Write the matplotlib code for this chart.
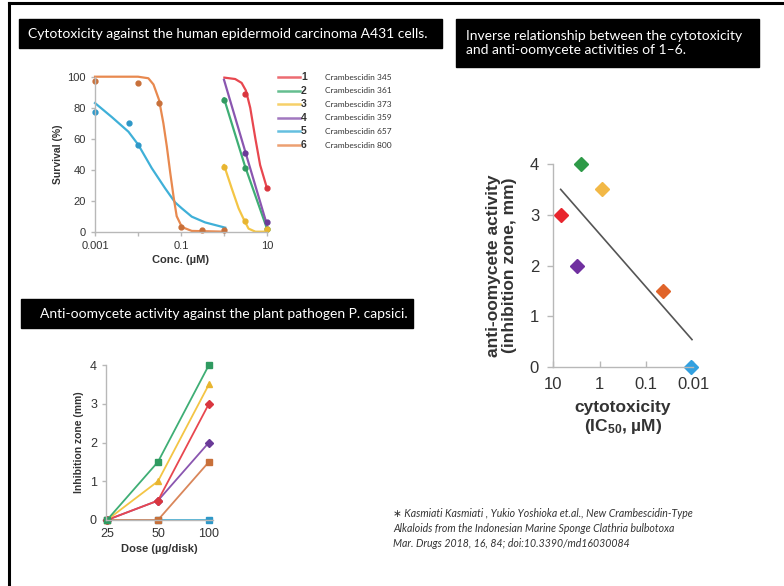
import matplotlib
matplotlib.use('Agg')
import matplotlib.pyplot as plt
from matplotlib.lines import Line2D
from matplotlib.patches import Rectangle

plt.rcParams['font.family'] = ['Liberation Sans', 'DejaVu Sans']
plt.rcParams['mathtext.default'] = 'regular'

# ---- panel 1: survival curves (A431 cells) ----
names = ['Crambescidin 345', 'Crambescidin 361', 'Crambescidin 373',
         'Crambescidin 359', 'Crambescidin 657', 'Crambescidin 800']
line_colors = ['#e8474f', '#3fae75', '#f4c545', '#8a56b0', '#3fb0d8', '#e8894f']
dot_colors = ['#d9363f', '#2f9a60', '#e8b530', '#6a3a98', '#2e98c8', '#c8703a']

curve_x = [
    [1.02, 1.82, 2.57, 3.24, 4.07, 5.37, 6.92, 10],
    [1, 3.1, 10],
    [1, 1.51, 2.19, 2.88, 3.72, 5.37, 10],
    [1, 10],
    [0.001, 0.00245, 0.006, 0.0102, 0.0209, 0.0427, 0.0724, 0.105, 0.178, 0.363, 1.07],
    [0.001, 0.01, 0.0174, 0.0229, 0.0309, 0.0389, 0.0468, 0.0562, 0.0676,
     0.0794, 0.105, 0.178, 1.07],
]
curve_y = [
    [99.4, 98.5, 96, 91, 80, 60, 43, 28],
    [86, 42, 2],
    [43, 28, 15, 8, 2, 0, 0],
    [98, 4.3],
    [83, 74, 64.5, 56, 41, 28, 19, 15, 9.7, 6, 2.6],
    [100, 100, 99, 95, 85, 70, 55, 38, 22, 10, 3, 0.5, 0],
]
pts_x = [
    [3.1, 10],
    [1, 3.1, 10],
    [1, 3.1, 10],
    [3.1, 10],
    [0.001, 0.0063, 0.01],
    [0.001, 0.01, 0.031, 0.1, 0.31, 1],
]
pts_y = [
    [88.6, 28],
    [85, 41, 2],
    [42, 7, 1.5],
    [51, 6],
    [77, 70, 56],
    [97, 96, 83, 3, 1, 1],
]

# ---- panel 2: inhibition zone vs dose ----
doses = ['25', '50', '100']
zone = [
    [0, 0.5, 3],     # 1
    [0, 1.5, 4],     # 2
    [0, 1, 3.5],     # 3
    [0, 0.5, 2],     # 4
    [0, 0, 0],       # 5
    [0, 0, 1.5],     # 6
]
zone_markers = ['D', 's', '^', 'D', 's', 's']

# ---- panel 3: activity vs IC50 ----
ic50 = [6.9, 2.5, 0.91, 3.1, 0.011, 0.044]
activity = [3, 4, 3.5, 2, 0, 1.5]
pt_colors = ['#e8262e', '#2e9a48', '#f2b846', '#7030a0', '#32a0e0', '#e0642a']
trend_x = [6.85, 0.0105]
trend_y = [3.5, 0.54]

W, H = 784, 586
fig = plt.figure(figsize=(7.84, 5.86), dpi=100)


def box(x0, y0, x1, y1):
    return [x0 / W, 1 - y1 / H, (x1 - x0) / W, (y1 - y0) / H]


def style(ax, size):
    for s in ['top', 'right']:
        ax.spines[s].set_visible(False)
    for s in ['left', 'bottom']:
        ax.spines[s].set_color('#b8b8b8')
        ax.spines[s].set_linewidth(1.0)
    ax.tick_params(colors='#b8b8b8', labelcolor='#333333', labelsize=size,
                   length=3, width=1.0)
    ax.tick_params(which='minor', colors='#b8b8b8', length=3, width=1.0)


# frame lines
fig.add_artist(Line2D([9 / W, 1], [1 - 3 / H, 1 - 3 / H], color='black', lw=2.2))
fig.add_artist(Line2D([9 / W, 9 / W], [0, 1 - 3 / H], color='black', lw=2.2))

# title boxes
tfont = ['Lato', 'DejaVu Sans']
for (x0, y0, x1, y1) in [(19, 19, 442, 48), (21, 299, 413, 328), (456, 19, 759, 67)]:
    fig.add_artist(Rectangle((x0 / W, 1 - y1 / H), (x1 - x0) / W, (y1 - y0) / H,
                             transform=fig.transFigure, color='black'))
fig.text(28 / W, 1 - 34 / H, 'Cytotoxicity against the human epidermoid carcinoma A431 cells.',
         color='white', fontsize=10, family=tfont, va='center')
fig.text(40 / W, 1 - 314 / H, 'Anti-oomycete activity against the plant pathogen P. capsici.',
         color='white', fontsize=10, family=tfont, va='center')
fig.text(466 / W, 1 - 43 / H,
         'Inverse relationship between the cytotoxicity\nand anti-oomycete activities of 1\u20136.',
         color='white', fontsize=10, family=tfont, va='center', linespacing=1.3)

# panel 1
ax1 = fig.add_axes(box(95, 76.7, 267, 231.7))
for i in range(6):
    ax1.plot(curve_x[i], curve_y[i], color=line_colors[i], lw=1.6, clip_on=False)
    ax1.plot(pts_x[i], pts_y[i], 'o', color=dot_colors[i], ms=3.5, clip_on=False)
ax1.set_xscale('log')
ax1.set_xlim(0.001, 10)
ax1.set_ylim(0, 100)
ax1.set_xticks([0.001, 0.1, 10])
ax1.set_xticklabels(['0.001', '0.1', '10'])
ax1.set_xticks([0.01, 1], minor=True)
ax1.set_xticklabels([], minor=True)
ax1.set_yticks([0, 20, 40, 60, 80, 100])
style(ax1, 8)
ax1.set_xlabel('Conc. (\u00b5M)', fontsize=8, fontweight='bold', color='#333333', labelpad=3)
ax1.set_ylabel('Survival (%)', fontsize=7.5, fontweight='bold', color='#333333', labelpad=3)

# panel 1 legend
for i in range(6):
    yy = 1 - (77 + i * 13.6) / H
    fig.add_artist(Line2D([278 / W, 300 / W], [yy, yy], color=line_colors[i], lw=1.8, alpha=0.8))
    fig.text(301 / W, yy, str(i + 1), fontsize=7.5, fontweight='bold', color='#333333', va='center')
    fig.text(325 / W, yy, names[i], fontsize=6, family=tfont, color='#333333', va='center')

# panel 2
ax2 = fig.add_axes(box(106, 365, 213, 520))
order = [4, 5, 3, 0, 2, 1]
for i in order:
    ax2.plot(range(3), zone[i], color=line_colors[i] if i != 5 else '#d9865a', lw=1.3,
             marker=zone_markers[i], ms=4.5 if zone_markers[i] != 'D' else 4,
             mfc=dot_colors[i], mec=dot_colors[i], clip_on=False)
ax2.set_xlim(-0.02, 2.08)
ax2.set_ylim(0, 4)
ax2.set_xticks(range(3))
ax2.set_xticklabels(doses)
ax2.set_yticks([0, 1, 2, 3, 4])
style(ax2, 9)
ax2.tick_params(axis='x', length=0, pad=6)
ax2.set_xlabel('Dose (\u00b5g/disk)', fontsize=8, fontweight='bold', color='#333333', labelpad=3)
ax2.set_ylabel('Inhibition zone (mm)', fontsize=7.5, fontweight='bold', color='#333333', labelpad=4)

# panel 3
ax3 = fig.add_axes(box(553, 164, 693, 367))
ax3.plot(trend_x, trend_y, color='#555555', lw=1.2)
for i in range(6):
    ax3.plot(ic50[i], activity[i], 'D', color=pt_colors[i], ms=7, clip_on=False)
ax3.set_xscale('log')
ax3.set_xlim(10, 0.01)
ax3.set_ylim(0, 4)
ax3.set_xticks([10, 1, 0.1, 0.01])
ax3.set_xticklabels(['10', '1', '0.1', '0.01'])
ax3.minorticks_off()
ax3.set_yticks([0, 1, 2, 3, 4])
style(ax3, 12)
ax3.tick_params(axis='x', direction='in', length=4, pad=7)
ax3.tick_params(axis='y', length=4, pad=6)
ax3.set_xlabel('cytotoxicity\n(IC$_{50}$, \u00b5M)', fontsize=12.5, fontweight='bold',
               color='#333333', labelpad=6, linespacing=1.15)
ax3.set_ylabel('anti-oomycete activity\n(inhibition zone, mm)', fontsize=12.5,
               fontweight='bold', color='#333333', labelpad=9, linespacing=1.1)

# citation
cite = ('\u2217 Kasmiati Kasmiati , Yukio Yoshioka et.al., New Crambescidin-Type\n'
        'Alkaloids from the Indonesian Marine Sponge Clathria bulbotoxa\n'
        'Mar. Drugs 2018, 16, 84; doi:10.3390/md16030084')
fig.text(393 / W, 1 - 508 / H, cite, fontsize=7.6, style='italic', family=tfont,
         color='#333333', va='top', linespacing=1.45)

fig.savefig('out.png', dpi=100)
